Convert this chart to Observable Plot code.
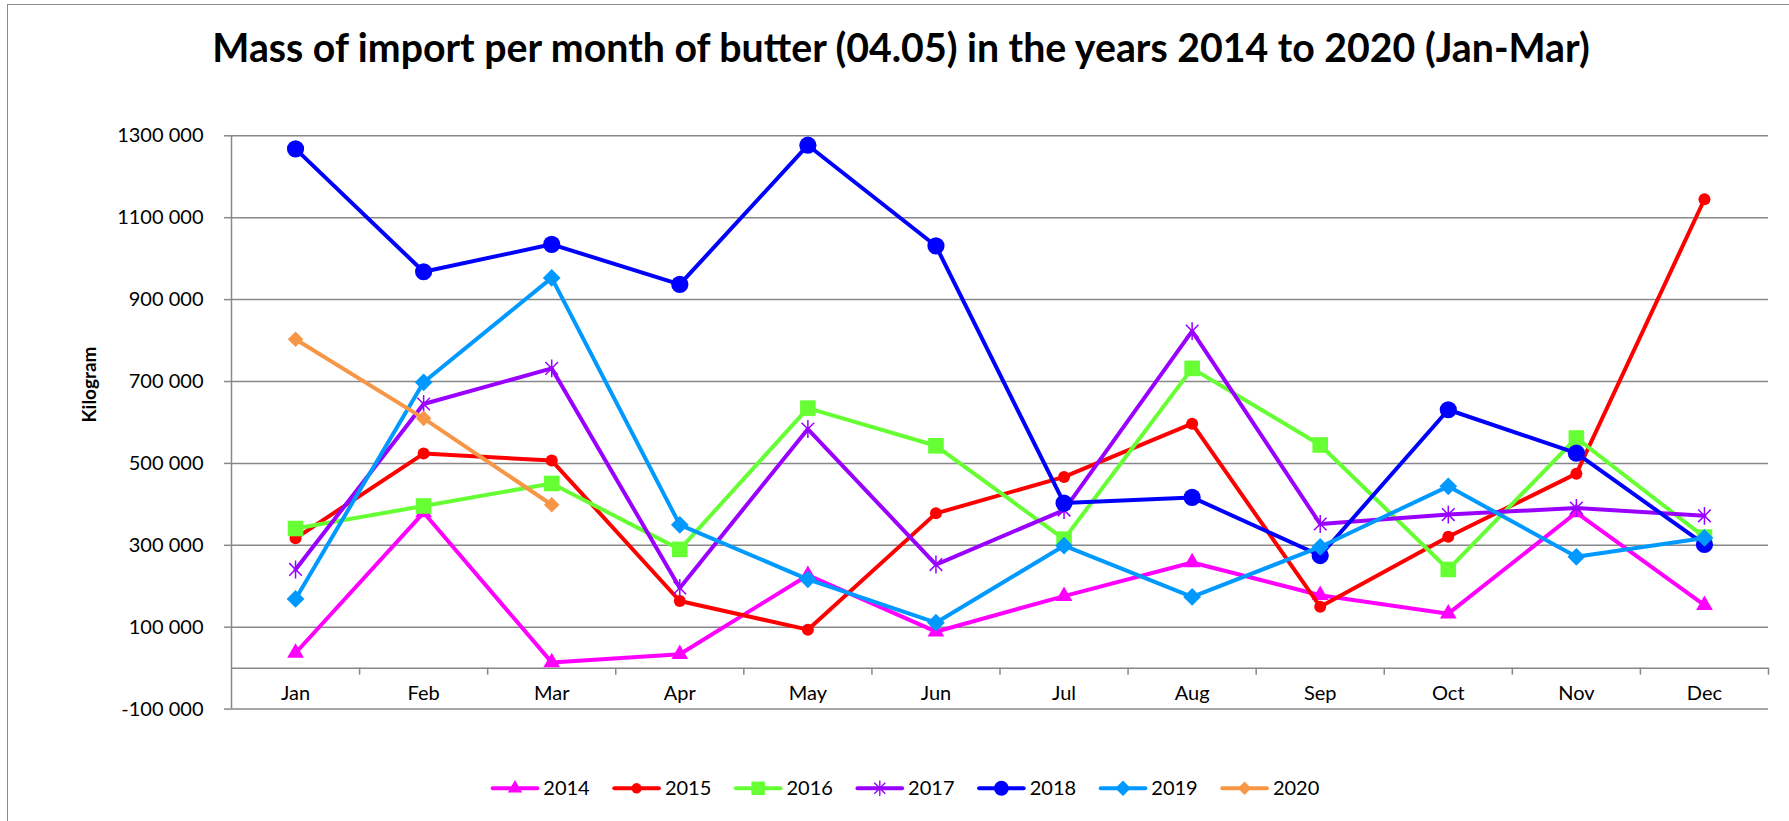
<!DOCTYPE html>
<html>
<head>
<meta charset="utf-8">
<script src="https://cdn.jsdelivr.net/npm/d3@7"></script>
<script src="https://cdn.jsdelivr.net/npm/@observablehq/plot@0.6"></script>
<style>
  html, body { margin: 0; padding: 0; background: #fff; }
  #page { position: relative; width: 1789px; height: 821px; overflow: hidden; font-family: Lato, "Open Sans", sans-serif; }
  #frameTop { position: absolute; left: 7px; top: 4px; width: 1800px; height: 0; border-top: 1.6px solid #8a8a8a; }
  #frameLeft { position: absolute; left: 7px; top: 4px; width: 0; height: 840px; border-left: 1.6px solid #8a8a8a; }
  #title { position: absolute; left: 0; top: 0; }
  #chart { position: absolute; left: 0; top: 100px; }
  #legend { position: absolute; left: 0; top: 770px; }
</style>
</head>
<body>
<div id="page">
  <div id="frameTop"></div>
  <div id="frameLeft"></div>
  <svg id="title" width="1789" height="100"></svg>
  <div id="chart"></div>
  <svg id="legend" width="1789" height="40"></svg>
</div>
<script>
// ---- data ----
const months = ["Jan", "Feb", "Mar", "Apr", "May", "Jun", "Jul", "Aug", "Sep", "Oct", "Nov", "Dec"];
const years = ["2014", "2015", "2016", "2017", "2018", "2019", "2020"];
const v2014 = [37000, 380000, 14000, 34000, 227000, 89000, 176000, 258000, 178000, 133000, 380000, 154000];
const v2015 = [317000, 524000, 507000, 164000, 94000, 378000, 467000, 597000, 150000, 321000, 475000, 1145000];
const v2016 = [341000, 396000, 451000, 290000, 635000, 543000, 315000, 732000, 545000, 241000, 562000, 320000];
const v2017 = [241000, 645000, 732000, 196000, 584000, 253000, 386000, 823000, 352000, 375000, 391000, 372000];
const v2018 = [1268000, 968000, 1035000, 937000, 1277000, 1031000, 403000, 417000, 275000, 631000, 525000, 302000];
const v2019 = [169000, 698000, 953000, 350000, 217000, 111000, 299000, 174000, 296000, 444000, 272000, 318000];
const v2020 = [803000, 610000, 399000];
const yTicks = [-100000, 100000, 300000, 500000, 700000, 900000, 1100000, 1300000];
const titleText = "Mass of import per month of butter (04.05) in the years 2014 to 2020 (Jan-Mar)";
const yLabel = "Kilogram";

// ---- styles ----
const seriesValues = [v2014, v2015, v2016, v2017, v2018, v2019, v2020];
const colors = ["#ff00ff", "#ff0000", "#66ff33", "#9900ff", "#0000ff", "#0099ff", "#f79646"];
const starSymbol = {
  draw(ctx, size) {
    const r = Math.sqrt(size) * 0.6;
    const d = r * 0.7071;
    ctx.moveTo(0, -r); ctx.lineTo(0, r);
    ctx.moveTo(-d, -d); ctx.lineTo(d, d);
    ctx.moveTo(-d, d); ctx.lineTo(d, -d);
  }
};
const markerSpec = [
  {symbol: "triangle", r: 6.2, filled: true},
  {symbol: "circle", r: 6.0, filled: true},
  {symbol: "square", r: 8.8, filled: true},
  {symbol: starSymbol, r: 8.4, filled: false},
  {symbol: "circle", r: 8.6, filled: true},
  {symbol: "diamond2", r: 8.0, filled: true},
  {symbol: "diamond2", r: 7.0, filled: true}
];
const gridColor = "#888888";
const font = "Lato, 'Open Sans', sans-serif";

const rows = [];
years.forEach((yr, s) => seriesValues[s].forEach((v, i) => rows.push({year: yr, s, m: i, month: months[i], v})));

const fmt = v => {
  const a = Math.abs(v);
  const hi = Math.floor(a / 1000), lo = a % 1000;
  return (v < 0 ? "-" : "") + (hi > 0 ? hi + " " + String(lo).padStart(3, "0") : String(lo));
};
const bounds = months.map((m, i) => i + 0.5);

const marks = [
  Plot.gridY(yTicks, {stroke: gridColor, strokeOpacity: 1, strokeWidth: 1.5}),
  Plot.ruleY([0], {stroke: gridColor, strokeWidth: 1.5}),
  Plot.ruleX([-0.5], {y1: yTicks[0], y2: yTicks[yTicks.length - 1], stroke: gridColor, strokeWidth: 1.5}),
  Plot.axisY(yTicks, {tickSize: 7, tickPadding: 21, tickFormat: fmt, stroke: gridColor, strokeWidth: 1.5, fontSize: 20, label: null}),
  Plot.axisX(bounds, {tickSize: 7, tickFormat: () => "", stroke: gridColor, strokeWidth: 1.5, dy: -40.95, label: null}),
  Plot.text(months, {x: (d, i) => i, text: d => d, frameAnchor: "bottom", dy: -9.6, fontSize: 20, fill: "black"}),
  Plot.text([yLabel], {frameAnchor: "left", text: d => d, rotate: -90, dx: -142, fontSize: 19, fontWeight: "bold", fill: "black"})
];
years.forEach((yr, s) => {
  const data = rows.filter(r => r.s === s);
  marks.push(Plot.line(data, {x: "m", y: "v", stroke: colors[s], strokeWidth: 4, strokeLinejoin: "round", strokeLinecap: "round"}));
  const spec = markerSpec[s];
  marks.push(Plot.dot(data, spec.filled
    ? {x: "m", y: "v", symbol: () => spec.symbol, r: spec.r, fill: colors[s], stroke: "none"}
    : {x: "m", y: "v", symbol: () => spec.symbol, r: spec.r, fill: "none", stroke: colors[s], strokeWidth: 1.5}));
});

const chart = Plot.plot({
  width: 1789,
  height: 660,
  marginTop: 35.3,
  marginBottom: 51.4,
  marginLeft: 231,
  marginRight: 21,
  x: {type: "linear", domain: [-0.5, 11.5]},
  y: {type: "linear", domain: [yTicks[0], yTicks[yTicks.length - 1]]},
  symbol: {type: "identity"},
  style: {fontFamily: font, fontSize: "20px", color: "black", background: "transparent", overflow: "visible"},
  marks
});
document.getElementById("chart").appendChild(chart);

// ---- title ----
const tsvg = d3.select("#title");
const tt = tsvg.append("text")
  .attr("x", 901).attr("y", 62)
  .attr("text-anchor", "middle")
  .style("font-family", font).style("font-weight", "bold").style("font-size", "36px")
  .attr("fill", "black")
  .text(titleText);
const len = tt.node().getComputedTextLength();
const fs = Math.min(42, 36 * 1378 / len);
tt.style("font-size", fs + "px");

// ---- legend ----
const lsvg = d3.select("#legend");
const cy = 18.3;
years.forEach((yr, s) => {
  const x0 = 490.7 + s * 121.6;
  const g = lsvg.append("g");
  g.append("line").attr("x1", x0 + 2).attr("x2", x0 + 46.6).attr("y1", cy).attr("y2", cy)
    .attr("stroke", colors[s]).attr("stroke-width", 4).attr("stroke-linecap", "round");
  const spec = markerSpec[s];
  const sym = typeof spec.symbol === "string"
    ? {triangle: d3.symbolTriangle, circle: d3.symbolCircle, square: d3.symbolSquare, diamond2: d3.symbolDiamond2}[spec.symbol]
    : spec.symbol;
  const size = Math.PI * spec.r * spec.r * 0.75;
  g.append("path").attr("transform", `translate(${x0 + 24.3},${cy})`)
    .attr("d", d3.symbol(sym, size)())
    .attr("fill", spec.filled ? colors[s] : "none")
    .attr("stroke", spec.filled ? "none" : colors[s]).attr("stroke-width", 1.4);
  g.append("text").attr("x", x0 + 52.6).attr("y", cy).attr("dy", "0.35em")
    .style("font-family", font).style("font-size", "20px").attr("fill", "black").text(yr);
});
</script>
</body>
</html>
